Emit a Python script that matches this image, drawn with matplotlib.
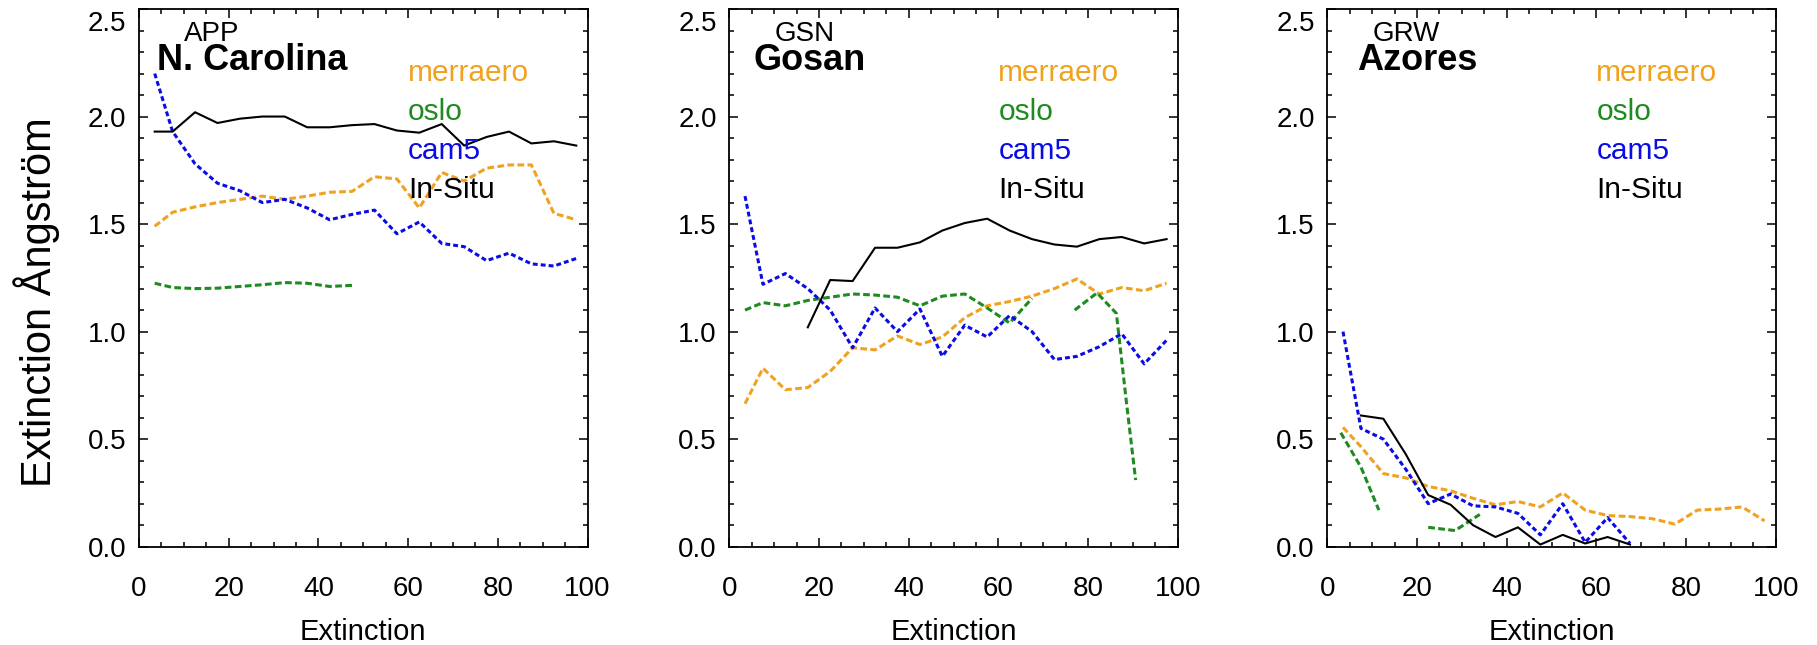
# Extinction Angstrom vs extinction at three sites, models vs in-situ
import numpy as np
import matplotlib
matplotlib.use('Agg')
import matplotlib.pyplot as plt
import matplotlib.transforms as mtransforms
from matplotlib.ticker import MultipleLocator

plt.rcParams['font.family'] = ['Liberation Sans', 'DejaVu Sans']

nan = np.nan

# extinction bins (x values)
bins = [3.5, 7.5, 12.5, 17.5, 22.5, 27.5, 32.5, 37.5, 42.5, 47.5,
        52.5, 57.5, 62.5, 67.5, 72.5, 77.5, 82.5, 87.5, 92.5, 97.5]

site_codes = ['APP', 'GSN', 'GRW']
site_names = ['N. Carolina', 'Gosan', 'Azores']
models = ['merraero', 'oslo', 'cam5', 'In-Situ']

# APP - N. Carolina
app_merraero = [1.49, 1.555, 1.58, 1.60, 1.615, 1.63, 1.615, 1.63, 1.648, 1.652,
                1.72, 1.71, 1.575, 1.74, 1.70, 1.76, 1.775, 1.775, 1.55, 1.52]
app_oslo = [1.225, 1.205, 1.20, 1.202, 1.21, 1.218, 1.228, 1.225, 1.21, 1.215,
            nan, nan, nan, nan, nan, nan, nan, nan, nan, nan]
app_cam5 = [2.20, 1.93, 1.78, 1.69, 1.655, 1.60, 1.615, 1.575, 1.52, 1.545,
            1.565, 1.455, 1.51, 1.41, 1.395, 1.33, 1.365, 1.315, 1.305, 1.34]
app_insitu = [1.93, 1.93, 2.02, 1.97, 1.99, 2.00, 2.00, 1.95, 1.95, 1.96,
              1.965, 1.935, 1.925, 1.965, 1.865, 1.905, 1.93, 1.875, 1.885, 1.865]

# GSN - Gosan
gsn_merraero = [0.665, 0.83, 0.73, 0.74, 0.815, 0.925, 0.915, 0.98, 0.94, 0.975,
                1.065, 1.12, 1.14, 1.165, 1.20, 1.245, 1.175, 1.205, 1.19, 1.225]
gsn_oslo_x = [3.5, 7.5, 12.5, 17.5, 22.5, 27.5, 32.5, 37.5, 42.5, 47.5,
              52.5, 57.5, 62.5, 67.5, 72.5, 77.0, 82.0, 86.3, 88.5, 90.6]
gsn_oslo = [1.10, 1.135, 1.12, 1.145, 1.16, 1.175, 1.17, 1.16, 1.12, 1.165,
            1.175, 1.11, 1.04, 1.155, nan, 1.10, 1.18, 1.085, 0.68, 0.31]
gsn_cam5 = [1.63, 1.22, 1.27, 1.20, 1.10, 0.925, 1.11, 1.00, 1.105, 0.885,
            1.03, 0.975, 1.075, 1.00, 0.87, 0.885, 0.93, 0.99, 0.85, 0.96]
gsn_insitu = [nan, nan, nan, 1.02, 1.24, 1.235, 1.39, 1.39, 1.415, 1.47,
              1.505, 1.525, 1.47, 1.43, 1.405, 1.395, 1.43, 1.44, 1.41, 1.43]

# GRW - Azores
grw_merraero = [0.555, 0.465, 0.34, 0.32, 0.28, 0.26, 0.225, 0.195, 0.21, 0.185,
                0.25, 0.17, 0.145, 0.14, 0.13, 0.105, 0.17, 0.175, 0.185, 0.12]
grw_oslo_x = [3.0, 7.5, 11.5, 17.0, 22.5, 28.5, 34.0]
grw_oslo = [0.53, 0.37, 0.17, nan, 0.09, 0.075, 0.15]
grw_cam5 = [1.00, 0.55, 0.50, 0.36, 0.20, 0.245, 0.19, 0.185, 0.155, 0.055,
            0.20, 0.02, 0.135, 0.015, nan, nan, nan, nan, nan, nan]
grw_insitu = [nan, 0.61, 0.595, 0.43, 0.24, 0.195, 0.10, 0.045, 0.09, 0.01,
              0.055, 0.015, 0.045, 0.01, nan, nan, nan, nan, nan, nan]

panels = [
    [(bins, app_merraero), (bins, app_oslo), (bins, app_cam5), (bins, app_insitu)],
    [(bins, gsn_merraero), (gsn_oslo_x, gsn_oslo), (bins, gsn_cam5), (bins, gsn_insitu)],
    [(bins, grw_merraero), (grw_oslo_x, grw_oslo), (bins, grw_cam5), (bins, grw_insitu)],
]

colors = ['#EFA21F', '#1F8A1F', '#0B0BE6', 'black']
styles = [(0, (2.2, 1.1)), (0, (2.2, 1.1)), (0, (1.6, 1.0)), '-']
widths = [2.2, 2.2, 2.2, 1.5]
name_x = [4.1, 5.3, 6.7]

fig = plt.figure(figsize=(18.17, 6.45), dpi=100)
lefts = [139, 729.3, 1327.3]
# IDL-style: top y label sits a bit below the top edge
top_shift = mtransforms.ScaledTranslation(0, -0.12, fig.dpi_scale_trans)

for i in range(3):
    ax = fig.add_axes([lefts[i] / 1817, (645 - 546.7) / 645, 448.5 / 1817, 537.7 / 645])
    for (xs, ys), c, ls, lw in zip(panels[i], colors, styles, widths):
        ax.plot(xs, ys, color=c, linestyle=ls, linewidth=lw)

    ax.set_xlim(0, 100)
    ax.set_ylim(0, 2.5)
    ax.xaxis.set_major_locator(MultipleLocator(20))
    ax.xaxis.set_minor_locator(MultipleLocator(5))
    ax.yaxis.set_major_locator(MultipleLocator(0.5))
    ax.yaxis.set_minor_locator(MultipleLocator(0.1))
    ax.yaxis.set_major_formatter(plt.FormatStrFormatter('%.1f'))
    ax.tick_params(which='both', direction='in', top=True, right=True, width=1.1, labelsize=20)
    ax.tick_params(which='major', length=6.5)
    ax.tick_params(which='minor', length=3.6)
    ax.tick_params(axis='x', pad=21)
    ax.tick_params(axis='y', pad=9)
    for sp in ax.spines.values():
        sp.set_linewidth(1.3)

    ax.set_xlabel('Extinction', fontsize=21)
    ax.xaxis.set_label_coords(0.5, -0.158)
    ax.xaxis.label.set_va('center')
    if i == 0:
        ax.set_ylabel('Extinction Ångström', fontsize=30)
        ax.yaxis.set_label_coords(-0.229, 0.455)
        ax.yaxis.label.set_va('center')

    ax.text(10.0, 2.353, site_codes[i], fontsize=20, va='baseline')
    ax.text(name_x[i], 2.217, site_names[i], fontsize=26, fontweight='bold', va='baseline')
    for m, c, yb in zip(models, colors, [2.165, 1.983, 1.802, 1.622]):
        ax.text(60, yb, m, color=c, fontsize=21.5, va='baseline')

    fig.canvas.draw()
    for tick in ax.yaxis.get_major_ticks():
        if abs(tick.get_loc() - 2.5) < 1e-6:
            lab = tick.label1
            lab.set_transform(lab.get_transform() + top_shift)

fig.savefig('out.png', dpi=100)
